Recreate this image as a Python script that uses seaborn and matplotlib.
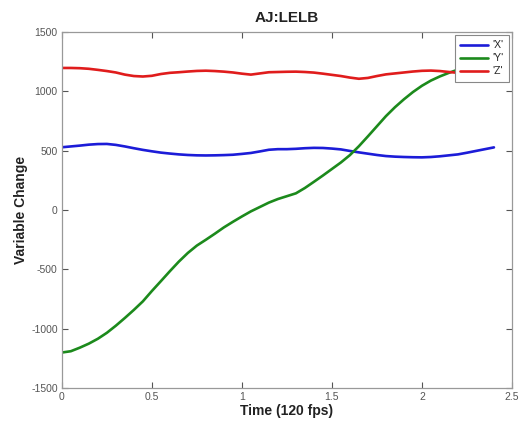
import pandas as pd
import matplotlib
matplotlib.use("Agg")
import matplotlib.pyplot as plt
import seaborn as sns

# Time axis (seconds, 120 fps capture), sampled every 0.05 s
time = [0.00, 0.05, 0.10, 0.15, 0.20, 0.25, 0.30, 0.35, 0.40, 0.45,
        0.50, 0.55, 0.60, 0.65, 0.70, 0.75, 0.80, 0.85, 0.90, 0.95,
        1.00, 1.05, 1.10, 1.15, 1.20, 1.25, 1.30, 1.35, 1.40, 1.45,
        1.50, 1.55, 1.60, 1.65, 1.70, 1.75, 1.80, 1.85, 1.90, 1.95,
        2.00, 2.05, 2.10, 2.15, 2.20, 2.25, 2.30, 2.35, 2.40]

x_vals = [528, 535, 542, 550, 555, 556, 548, 535, 520, 506,
          494, 483, 475, 468, 463, 460, 459, 460, 462, 465,
          472, 480, 493, 507, 512, 512, 515, 520, 523, 522,
          517, 510, 497, 485, 474, 463, 454, 449, 446, 444,
          443, 446, 452, 460, 468, 482, 497, 512, 527]

y_vals = [-1201, -1190, -1160, -1126, -1085, -1035, -975, -910, -842, -770,
          -683, -600, -516, -435, -362, -300, -251, -200, -147, -100,
          -55, -12, 25, 62, 92, 116, 140, 185, 237, 290,
          345, 400, 462, 537, 620, 705, 790, 865, 932, 993,
          1046, 1090, 1125, 1155, 1182, 1207, 1230, 1250, 1268]

z_vals = [1196, 1196, 1194, 1189, 1180, 1170, 1158, 1140, 1128, 1124,
          1130, 1145, 1155, 1160, 1166, 1171, 1173, 1170, 1165, 1158,
          1148, 1140, 1150, 1160, 1162, 1164, 1165, 1162, 1157, 1148,
          1138, 1128, 1115, 1105, 1112, 1128, 1142, 1150, 1158, 1166,
          1172, 1174, 1170, 1162, 1155, 1150, 1148, 1147, 1148]

series_names = ["'X'", "'Y'", "'Z'"]
colors = ["#1c1cd8", "#1c8a1c", "#e01c1c"]

df = pd.concat([
    pd.DataFrame({"time": time, "value": v, "series": n})
    for n, v in zip(series_names, [x_vals, y_vals, z_vals])
])

sns.set_theme(style="white")
plt.rcParams["font.family"] = ["Liberation Sans", "DejaVu Sans"]
plt.rcParams["axes.unicode_minus"] = False

fig = plt.figure(figsize=(5.24, 4.25), dpi=100)
ax = fig.add_axes([0.118, 0.087, 0.859, 0.838])

sns.lineplot(data=df, x="time", y="value", hue="series",
             palette=colors, linewidth=1.9, ax=ax, sort=False)

ax.set_xlim(0, 2.5)
ax.set_ylim(-1500, 1500)
ax.set_xticks([0, 0.5, 1, 1.5, 2, 2.5])
ax.set_xticklabels(["0", "0.5", "1", "1.5", "2", "2.5"])
ax.set_yticks([-1500, -1000, -500, 0, 500, 1000, 1500])

ax.tick_params(direction="in", length=4, width=0.8, colors="#555555",
               labelsize=7.5, top=True, right=True, bottom=True, left=True,
               pad=3)
for s in ax.spines.values():
    s.set_color("#999999")
    s.set_linewidth(0.9)

ax.set_title("AJ:LELB", fontsize=11, fontweight="bold", color="#222222", pad=7)
ax.set_xlabel("Time (120 fps)", fontsize=10, fontweight="bold", color="#222222", labelpad=1)
ax.set_ylabel("Variable Change", fontsize=10, fontweight="bold", color="#222222", labelpad=2)

leg = ax.legend(loc="upper right", fontsize=7.5, frameon=True, fancybox=False,
                borderaxespad=0.3, handlelength=2.7, handletextpad=0.4,
                labelspacing=0.3, borderpad=0.5)
leg.get_frame().set_edgecolor("#888888")
leg.get_frame().set_linewidth(0.8)
leg.get_frame().set_alpha(1)

fig.savefig("out.png", dpi=100)
